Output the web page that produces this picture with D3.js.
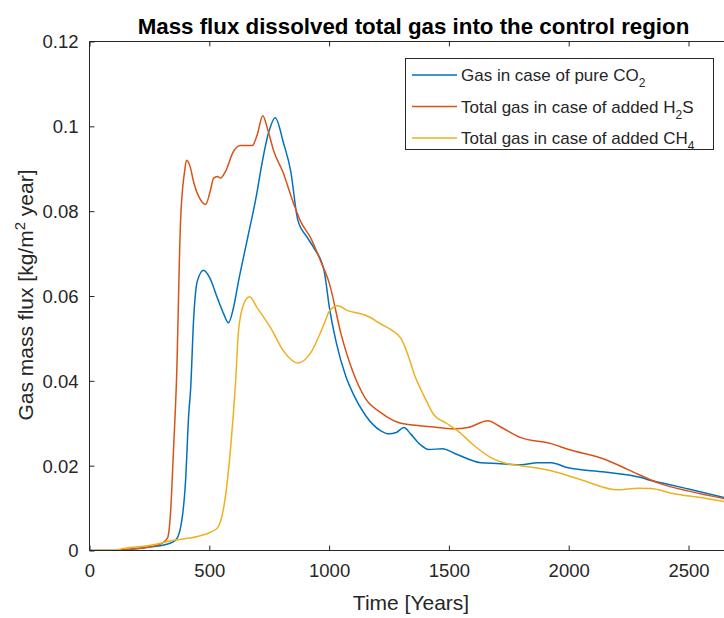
<!DOCTYPE html>
<html>
<head>
<meta charset="utf-8">
<script src="https://cdn.jsdelivr.net/npm/d3@7"></script>
<style>
  html, body { margin: 0; padding: 0; background: #fff; }
  svg { display: block; }
  text { font-family: "Liberation Sans", Arial, Helvetica, sans-serif; }
</style>
</head>
<body>
<div id="chart"></div>
<script>
// ---------------- data ----------------
const xTicks = [0, 500, 1000, 1500, 2000, 2500];
const yTicks = [0, 0.02, 0.04, 0.06, 0.08, 0.1, 0.12];
const yTickLabels = ["0", "0.02", "0.04", "0.06", "0.08", "0.1", "0.12"];

const seriesNames = ["Gas in case of pure CO", "Total gas in case of added H", "Total gas in case of added CH"];
const seriesColors = ["#0072BD", "#D95319", "#EDB120"];

const co2Time = [0, 100, 150, 250, 330, 359, 380, 401, 414, 422, 435, 450, 476, 500, 534, 560, 580, 600, 622, 660, 700, 714, 750, 775, 810, 840, 869, 910, 937, 979, 1002, 1030, 1070, 1100, 1150, 1216, 1250, 1280, 1312, 1340, 1380, 1416, 1474, 1520, 1633, 1700, 1800, 1871, 1926, 1997, 2150, 2302, 2343, 2400, 2500, 2700];
const co2Value = [0, 0, 0.0002, 0.0008, 0.0016, 0.0024, 0.0054, 0.0165, 0.032, 0.038, 0.055, 0.0635, 0.0661, 0.0645, 0.0595, 0.0558, 0.0537, 0.057, 0.0635, 0.0737, 0.0847, 0.0894, 0.099, 0.102, 0.096, 0.0894, 0.078, 0.0737, 0.0713, 0.066, 0.057, 0.049, 0.041, 0.037, 0.032, 0.0282, 0.0275, 0.0278, 0.029, 0.0275, 0.025, 0.0238, 0.024, 0.023, 0.0207, 0.0205, 0.0202, 0.0207, 0.0207, 0.0195, 0.0185, 0.0172, 0.0165, 0.0158, 0.0145, 0.0118];

const h2sTime = [0, 100, 150, 250, 300, 326, 338, 351, 363, 380, 397, 405, 420, 434, 460, 485, 505, 518, 534, 547, 568, 600, 630, 680, 700, 723, 745, 770, 806, 853, 881, 923, 965, 1002, 1050, 1100, 1150, 1216, 1300, 1425, 1520, 1580, 1662, 1720, 1800, 1926, 2000, 2150, 2250, 2385, 2500, 2700];
const h2sValue = [0, 0, 0.0002, 0.0008, 0.0016, 0.003, 0.0087, 0.0242, 0.04, 0.0776, 0.0894, 0.092, 0.0905, 0.087, 0.083, 0.0816, 0.085, 0.0878, 0.0882, 0.0878, 0.0894, 0.094, 0.0955, 0.0955, 0.098, 0.1025, 0.099, 0.094, 0.0894, 0.0816, 0.0776, 0.0737, 0.0682, 0.0628, 0.051, 0.042, 0.036, 0.0325, 0.030, 0.0292, 0.0287, 0.029, 0.0306, 0.029, 0.0266, 0.0252, 0.0238, 0.0215, 0.019, 0.0157, 0.014, 0.0117];

const ch4Time = [0, 100, 143, 250, 351, 450, 505, 535, 560, 589, 610, 622, 643, 668, 700, 756, 810, 869, 923, 979, 1002, 1036, 1080, 1132, 1170, 1216, 1260, 1300, 1330, 1355, 1400, 1437, 1490, 1537, 1600, 1675, 1740, 1800, 1926, 2051, 2205, 2290, 2343, 2440, 2550, 2700];
const ch4Value = [0, 0, 0.0005, 0.0012, 0.0024, 0.0033, 0.0043, 0.0054, 0.0101, 0.0242, 0.040, 0.0518, 0.058, 0.0598, 0.0572, 0.0525, 0.047, 0.0442, 0.0466, 0.0534, 0.0565, 0.0577, 0.0565, 0.0558, 0.055, 0.0534, 0.052, 0.050, 0.046, 0.0416, 0.036, 0.032, 0.030, 0.0282, 0.025, 0.0219, 0.0205, 0.020, 0.0188, 0.0167, 0.0143, 0.0147, 0.0146, 0.0134, 0.0125, 0.011];

const seriesTimes = [co2Time, h2sTime, ch4Time];
const seriesValues = [co2Value, h2sValue, ch4Value];

// ---------------- layout ----------------
const W = 724, H = 618;
const axisColor = "#262626";

const svg = d3.select("#chart").append("svg")
  .attr("width", W).attr("height", H)
  .attr("viewBox", `0 0 ${W} ${H}`);

svg.append("rect").attr("width", W).attr("height", H).attr("fill", "#fff");

const x = d3.scaleLinear().domain([0, 2500]).range([89.5, 688.5]);
const y = d3.scaleLinear().domain([0, 0.12]).range([550.5, 41.5]);
const xMaxPix = x(3000);

// clip
svg.append("clipPath").attr("id", "clip")
  .append("rect").attr("x", x(0)).attr("y", y(0.12)).attr("width", xMaxPix - x(0)).attr("height", y(0) - y(0.12));

// lines
const line = d3.line().x(d => x(d[0])).y(d => y(d[1])).curve(d3.curveMonotoneX);
const gLines = svg.append("g").attr("clip-path", "url(#clip)");
seriesTimes.forEach((ts, i) => {
  const pts = ts.map((t, k) => [t, seriesValues[i][k]]);
  gLines.append("path")
    .attr("d", line(pts))
    .attr("fill", "none")
    .attr("stroke", seriesColors[i])
    .attr("stroke-width", 1.5)
    .attr("stroke-linejoin", "round");
});

// axes
const tickFont = 18.5;
const xAxis = d3.axisBottom(x).tickValues(xTicks).tickSize(-5).tickSizeOuter(0).tickPadding(13)
  .tickFormat(d3.format("d"));
const gx = svg.append("g").attr("transform", `translate(0,${y(0)})`).call(xAxis);

const xTop = d3.axisTop(x).tickValues(xTicks).tickSize(-5).tickSizeOuter(0).tickFormat("");
const gxt = svg.append("g").attr("transform", `translate(0,${y(0.12)})`).call(xTop);

const yAxis = d3.axisLeft(y).tickValues(yTicks).tickSize(-5).tickSizeOuter(0).tickPadding(11)
  .tickFormat((d, i) => yTickLabels[i]);
const gy = svg.append("g").attr("transform", `translate(${x(0)},0)`).call(yAxis);

[gx, gxt, gy].forEach(g => {
  g.select(".domain").attr("stroke", axisColor).attr("stroke-width", 1);
  g.selectAll(".tick line").attr("stroke", axisColor).attr("stroke-width", 1);
  g.selectAll(".tick text").attr("fill", axisColor).style("font-size", tickFont + "px")
    .style("font-family", '"Liberation Sans", Arial, sans-serif');
});
gx.select(".domain").attr("d", `M${x(0)},0H${xMaxPix}`);
gxt.select(".domain").attr("d", `M${x(0)},0H${xMaxPix}`);
gy.select(".domain").attr("d", `M0,${y(0)}V${y(0.12)}`);
gy.selectAll(".tick text").attr("dy", "0.35em");

// title
const title = svg.append("text")
  .attr("x", 413.5).attr("y", 34)
  .attr("text-anchor", "middle")
  .attr("font-weight", "bold")
  .attr("fill", "#000")
  .style("font-size", "17px")
  .text("Mass flux dissolved total gas into the control region");
const tl = title.node().getComputedTextLength();
title.style("font-size", (17 * 552 / tl).toFixed(2) + "px");

// x label
svg.append("text")
  .attr("x", 411).attr("y", 610)
  .attr("text-anchor", "middle")
  .attr("fill", axisColor)
  .style("font-size", "21px")
  .text("Time [Years]");

// y label
const yl = svg.append("text")
  .attr("transform", "translate(33,295) rotate(-90)")
  .attr("text-anchor", "middle")
  .attr("fill", axisColor)
  .style("font-size", "21px");
yl.append("tspan").text("Gas mass flux [kg/m");
yl.append("tspan").attr("dy", -8).style("font-size", "15px").text("2");
yl.append("tspan").attr("dy", 8).text(" year]");

// legend
const legend = svg.append("g");
legend.append("rect")
  .attr("x", 405.5).attr("y", 58.5).attr("width", 308).attr("height", 91)
  .attr("fill", "#fff").attr("stroke", axisColor).attr("stroke-width", 1);
const subs = ["2", "2", "4"];
seriesNames.forEach((name, i) => {
  const cy = 75 + i * 31.5;
  legend.append("line")
    .attr("x1", 412).attr("x2", 457).attr("y1", cy).attr("y2", cy)
    .attr("stroke", seriesColors[i]).attr("stroke-width", 1.5);
  const t = legend.append("text")
    .attr("x", 461).attr("y", cy + 6)
    .attr("fill", axisColor)
    .style("font-size", "17px");
  t.append("tspan").text(name);
  t.append("tspan").attr("dy", 6).style("font-size", "12px").text(subs[i]);
  if (i === 1) t.append("tspan").attr("dy", -6).text("S");
});
</script>
</body>
</html>
